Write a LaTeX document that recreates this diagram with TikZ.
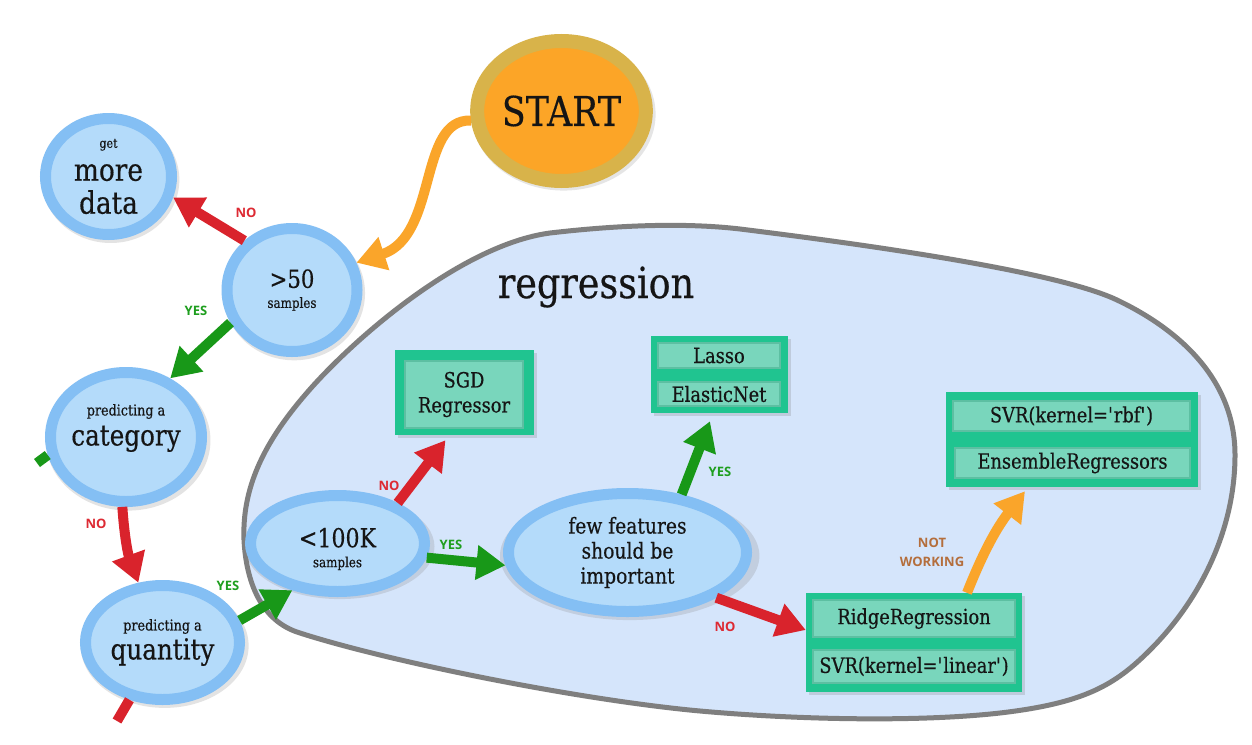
\documentclass[tikz,border=0pt]{standalone}
\usepackage{fontspec}
\setmainfont{DejaVu Serif}[FakeStretch=0.85,FakeBold=0.4]
\newfontfamily\labfont{Open Sans}
\usetikzlibrary{arrows.meta,shapes.geometric,shadows}
\definecolor{ringblue}{HTML}{84BFF4}
\definecolor{fillblue}{HTML}{B4DBFA}
\definecolor{regfill}{HTML}{D5E5FB}
\definecolor{regline}{HTML}{7F7F7F}
\definecolor{boxgreen}{HTML}{20C490}
\definecolor{boxfill}{HTML}{79D6BC}
\definecolor{boxedge}{HTML}{5DBFA2}
\definecolor{arrred}{HTML}{D9232C}
\definecolor{arrgreen}{HTML}{189818}
\definecolor{arrorange}{HTML}{FAA52A}
\definecolor{yescol}{HTML}{1E9E1E}
\definecolor{nocol}{HTML}{DD2A33}
\definecolor{notcol}{HTML}{B46E3C}
\definecolor{startring}{HTML}{D8B34A}
\definecolor{startfill}{HTML}{FCA527}
\definecolor{ink}{HTML}{151515}
\begin{document}
\begin{tikzpicture}[x=1pt,y=-1pt,
  decision/.style={ellipse, draw=ringblue, fill=fillblue, line width=11pt, inner sep=0pt, align=center, text=ink,
     drop shadow={shadow xshift=2pt, shadow yshift=-3pt, opacity=.22, shadow scale=1.09}},
  txt/.style={align=center, text=ink, inner sep=0pt},
  outerbox/.style={rectangle, fill=boxgreen, inner sep=0pt, drop shadow={shadow xshift=3pt, shadow yshift=-3pt, opacity=.25}},
  innerbox/.style={rectangle, fill=boxfill, draw=boxedge, line width=1.5pt, inner sep=0pt, text=ink, align=center, font=\fontsize{21}{25}\selectfont},
  flow/.style={line width=10pt, -{Triangle[length=29pt,width=33pt]}},
  stub/.style={line width=10pt},
  yes/.style={text=yescol, font=\labfont\bfseries\fontsize{13}{15}\selectfont, inner sep=0pt},
  no/.style={text=nocol, font=\labfont\bfseries\fontsize{13}{15}\selectfont, inner sep=0pt},
  notw/.style={text=notcol, font=\labfont\bfseries\fontsize{13}{19}\selectfont, inner sep=0pt, align=center}
]
\useasboundingbox (0,0) rectangle (1252,744);
\fill[white] (0,0) rectangle (1252,744);

% regression region
\draw[line width=5pt, draw=regline, fill=regfill]
  (244,540) .. controls (242,490) and (262,445) .. (305,395)
  .. controls (350,342) and (460,245) .. (550,233)
  .. controls (610,226) and (680,222) .. (740,229)
  .. controls (820,239) and (1050,268) .. (1117,300)
  .. controls (1180,330) and (1235,380) .. (1235,455)
  .. controls (1235,530) and (1200,600) .. (1150,650)
  .. controls (1115,685) and (1085,703) .. (1000,713)
  .. controls (920,722) and (800,720) .. (700,711)
  .. controls (580,700) and (390,662) .. (300,633)
  .. controls (260,621) and (246,580) .. cycle;
\node[txt, font=\fontsize{43}{50}\selectfont] (regt) at (596,287) {regression};

% start
\node[ellipse, draw=startring, fill=startfill, line width=14pt, inner sep=0pt,
      minimum width=163pt, minimum height=140pt, text=ink,
      drop shadow={shadow xshift=2pt, shadow yshift=-3pt, opacity=.2, shadow scale=1.09},
      font=\fontsize{41}{45}\selectfont] (start) at (561.5,111) {START};

% decision nodes
\node[decision, minimum width=126pt, minimum height=116pt, font=\fontsize{31}{33}\selectfont]
  (more) at (108.5,176.5) {{\fontsize{13}{13}\selectfont get}\\ more\\ data};
\node[decision, minimum width=130pt, minimum height=123pt, font=\fontsize{25}{20}\selectfont]
  (g50) at (292,290) {>50\\ {\fontsize{14}{14}\selectfont samples}};
\node[decision, minimum width=151pt, minimum height=129pt] (cat) at (126,437) {};
\node[txt, font=\fontsize{29}{30}\selectfont] (catT) at (126,428) {{\fontsize{15}{15}\selectfont predicting a}\\ category};
\node[decision, minimum width=154pt, minimum height=114pt, font=\fontsize{29}{29}\selectfont]
  (quant) at (162.5,642.5) {{\fontsize{15}{15}\selectfont predicting a}\\ quantity};
\node[decision, minimum width=174pt, minimum height=96pt] (k100) at (337.5,543.5) {};
\node[txt, font=\fontsize{26}{20}\selectfont] (k100T) at (337.5,549) {<100K\\ {\fontsize{14}{14}\selectfont samples}};
\node[decision, minimum width=238pt, minimum height=118pt, font=\fontsize{22}{25}\selectfont]
  (few) at (627.5,552.5) {few features\\ should be\\ important};

% boxes
\node[outerbox, minimum width=139pt, minimum height=85pt] (sgdO) at (464.5,392.5) {};
\node[innerbox, minimum width=118pt, minimum height=67pt] (sgd) at (464,394.5) {SGD\\ Regressor};

\node[outerbox, minimum width=137pt, minimum height=77pt] (lassoO) at (719.5,374.5) {};
\node[innerbox, minimum width=122pt, minimum height=25pt] (lasso) at (719,355.5) {Lasso};
\node[innerbox, minimum width=122pt, minimum height=24pt] (enet) at (719,394) {ElasticNet};

\node[outerbox, minimum width=252pt, minimum height=95pt] (svrO) at (1072,439.5) {};
\node[innerbox, minimum width=237pt, minimum height=30pt] (svr) at (1071.5,416) {SVR(kernel=\textquotesingle rbf\textquotesingle)};
\node[innerbox, minimum width=235pt, minimum height=30pt] (ens) at (1072.5,463) {EnsembleRegressors};

\node[outerbox, minimum width=216pt, minimum height=99pt] (ridgeO) at (914,642.5) {};
\node[innerbox, minimum width=202pt, minimum height=37pt] (ridge) at (914,618.5) {RidgeRegression};
\node[innerbox, minimum width=202pt, minimum height=33pt] (svrl) at (914,666.5) {SVR(kernel=\textquotesingle linear\textquotesingle)};

% connectors
\draw[flow, arrorange] (start.186) .. controls +(-53,-2) and +(82,-27) .. (g50.23);
\draw[flow, arrred] (g50.134) -- (more.-18.4);
\draw[flow, arrgreen] (g50.208.5) -- (cat.53.7);
\draw[flow, arrred] (cat.267.5) to[bend right=8] (quant.112.9);
\draw[flow, arrgreen] (quant.16.2) -- (k100.226.5);
\draw[flow, arrred] (k100.34.4) -- ([xshift=-19pt,yshift=-5pt]sgdO.south);
\draw[flow, arrgreen] (k100.-9.2) -- (few.186.9);
\draw[flow, arrgreen] (few.47.6) -- ([xshift=-9.5pt,yshift=-8pt]lassoO.south);
\draw[flow, arrred] (few.-27.7) -- ([yshift=12.5pt]ridgeO.west);
\draw[flow, arrorange] ([xshift=53pt]ridgeO.north) to[bend left=8] ([xshift=-47pt,yshift=-4pt]svrO.south);
\coordinate (stubA) at (37,463);
\coordinate (stubB) at (117,721);
\draw[stub, arrgreen] (cat.193) -- (stubA);
\draw[stub, arrred] (quant.240.5) -- (stubB);

% labels
\node[no] (l1) at (246,213) {NO};
\node[yes] (l2) at (196,311) {YES};
\node[no] (l3) at (96,524) {NO};
\node[yes] (l4) at (228,586) {YES};
\node[no] (l5) at (389,486) {NO};
\node[yes] (l6) at (451,545) {YES};
\node[yes] (l7) at (720,472) {YES};
\node[no] (l8) at (725,627) {NO};
\node[notw] (l9) at (932,552) {NOT\\ WORKING};
\end{tikzpicture}
\end{document}
